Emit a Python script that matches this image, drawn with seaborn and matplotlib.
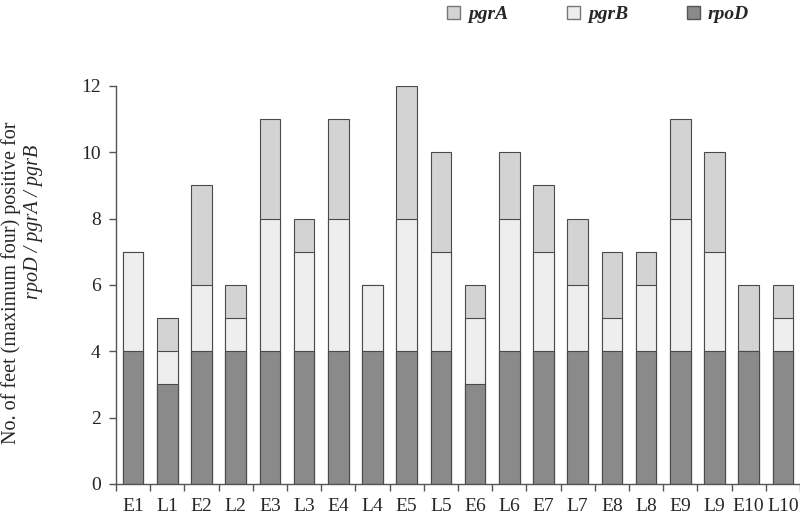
import numpy as np
import pandas as pd
import matplotlib
matplotlib.use("Agg")
import matplotlib.pyplot as plt
import seaborn as sns
from matplotlib.patches import Patch
from matplotlib.ticker import FixedLocator

# data
samples = ["E1", "L1", "E2", "L2", "E3", "L3", "E4", "L4", "E5", "L5",
           "E6", "L6", "E7", "L7", "E8", "L8", "E9", "L9", "E10", "L10"]
rpoD = [4, 3, 4, 4, 4, 4, 4, 4, 4, 4, 3, 4, 4, 4, 4, 4, 4, 4, 4, 4]
pgrB = [3, 1, 2, 1, 4, 3, 4, 2, 4, 3, 2, 4, 3, 2, 1, 2, 4, 3, 0, 1]
pgrA = [0, 1, 3, 1, 3, 1, 3, 0, 4, 3, 1, 2, 2, 2, 2, 1, 3, 3, 2, 1]

df = pd.DataFrame({"sample": samples, "rpoD": rpoD, "pgrB": pgrB, "pgrA": pgrA})
df["upto_pgrB"] = df["rpoD"] + df["pgrB"]
df["total"] = df["upto_pgrB"] + df["pgrA"]

col_rpoD = "#8a8a8a"
col_pgrB = "#eeeeee"
col_pgrA = "#d3d3d3"
edge = "#4a4a4a"

sns.set_style("white")
plt.rcParams["font.family"] = ["Liberation Serif", "DejaVu Serif"]

fig = plt.figure(figsize=(8, 5.18), dpi=100)
ax = fig.add_axes([0.145, 0.066, 0.855, 0.768])

# stacked look: draw cumulative totals back to front
bar_kw = dict(width=0.6, edgecolor=edge, linewidth=0.8, order=samples, ax=ax)
sns.barplot(data=df, x="sample", y="total", color=col_pgrA, **bar_kw)
sns.barplot(data=df, x="sample", y="upto_pgrB", color=col_pgrB, **bar_kw)
sns.barplot(data=df, x="sample", y="rpoD", color=col_rpoD, **bar_kw)

ax.set_xlim(-0.5, len(samples) - 0.5)
ax.set_ylim(0, 12)
ax.set_yticks(np.arange(0, 13, 2))
ax.set_xlabel("")
ax.set_ylabel("")

for s in ["top", "right"]:
    ax.spines[s].set_visible(False)
for s in ["left", "bottom"]:
    ax.spines[s].set_color("#555555")
    ax.spines[s].set_linewidth(1.0)

ax.tick_params(axis="y", which="major", direction="out", length=5, width=1,
               color="#555555", labelsize=14, pad=6, left=True)
ax.tick_params(axis="x", which="major", length=0, labelsize=14, pad=10)
ax.xaxis.set_minor_locator(FixedLocator(np.arange(-0.5, len(samples), 1.0)))
ax.tick_params(axis="x", which="minor", direction="out", length=5, width=1,
               color="#555555", bottom=True)

fig.text(0.014, 0.454, "No. of feet (maximum four) positive for",
         rotation=90, ha="center", va="center", fontsize=14.5)
fig.text(0.042, 0.571, "rpoD / pgrA / pgrB", rotation=90, ha="center",
         va="center", fontsize=14.5, style="italic")

handles = [Patch(facecolor=col_pgrA, edgecolor="#777777", label="pgrA"),
           Patch(facecolor=col_pgrB, edgecolor="#777777", label="pgrB"),
           Patch(facecolor=col_rpoD, edgecolor="#555555", label="rpoD")]
fig.legend(handles=handles, loc="center", bbox_to_anchor=(0.7475, 0.972), ncol=3,
           frameon=False, handlelength=0.7, handleheight=0.7, handletextpad=0.4,
           columnspacing=3.0,
           prop={"family": "Liberation Serif", "style": "italic",
                 "weight": "bold", "size": 14})

fig.savefig("out.png", dpi=100)
